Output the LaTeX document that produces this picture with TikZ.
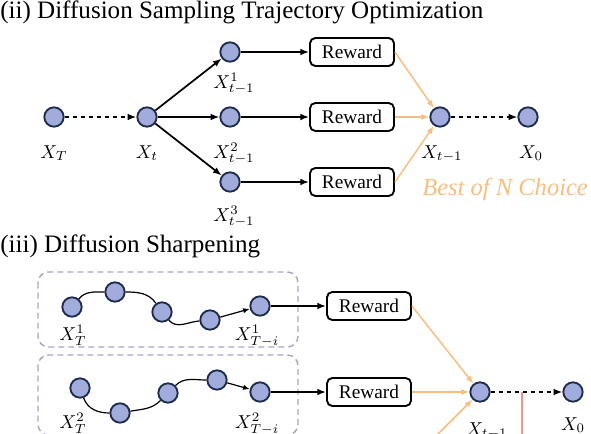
\documentclass[tikz,border=0pt]{standalone}
\usepackage{fontspec}
\setmainfont{Liberation Serif}
\usepackage{tikz}
\usetikzlibrary{shapes,arrows.meta}
\definecolor{latentfill}{RGB}{162,172,220}
\definecolor{latentline}{RGB}{30,45,75}
\definecolor{pickorange}{RGB}{247,190,128}
\definecolor{groupline}{RGB}{165,168,200}
\definecolor{cutred}{RGB}{232,150,150}
\tikzset{
  latent/.style={circle,draw=latentline,fill=latentfill,line width=1.4pt,minimum size=14.5pt,inner sep=0pt},
  rewardbox/.style={draw,rounded corners=4pt,line width=1.4pt,minimum width=63pt,minimum height=21pt,inner sep=0pt,font=\fontsize{14.5}{16}\selectfont},
  lbl/.style={anchor=base,inner sep=0pt,scale=1.4,font=\normalsize},
  heading/.style={anchor=base west,inner sep=0pt,font=\fontsize{18.8}{22}\selectfont},
  flow/.style={-{Latex[length=6.5pt,width=5pt]},line width=1.3pt},
  gap/.style={dash pattern=on 3.5pt off 2.5pt},
  pick/.style={-{Latex[length=6pt,width=4.5pt]},line width=1.1pt,draw=pickorange},
  trail/.style={line width=0.9pt},
  groupbox/.style={draw=groupline,line width=1.1pt,rounded corners=8pt,dash pattern=on 4.5pt off 3pt}
}
\begin{document}
\begin{tikzpicture}[x=0.75pt,y=0.75pt]
\useasboundingbox (0,0) rectangle (591,433);

% Text Node
\node[heading] (titleii) at (0,414) {(ii) Diffusion Sampling Trajectory Optimization};

%Shape: Circle
\node[latent] (xT) at (54,316) {};
\node[latent] (xt) at (147,316) {};
\node[latent] (xa) at (230,381) {};
\node[latent] (xb) at (230,316) {};
\node[latent] (xc) at (230,251) {};
\node[latent] (xsel) at (440,316) {};
\node[latent] (xzero) at (528,316) {};

%Shape: Rectangle
\node[rewardbox] (ra) at (352,381) {Reward};
\node[rewardbox] (rb) at (352,316) {Reward};
\node[rewardbox] (rc) at (352,251) {Reward};

%Straight Lines
\draw[flow,gap] (xT) -- (xt);
\draw[flow] (xt) -- (xa);
\draw[flow] (xt) -- (xb);
\draw[flow] (xt) -- (xc);
\draw[flow] (xa) -- (ra);
\draw[flow] (xb) -- (rb);
\draw[flow] (xc) -- (rc);
\draw[pick] (ra.east) -- (xsel);
\draw[pick] (rb.east) -- (xsel);
\draw[pick] (rc.east) -- (xsel);
\draw[flow,gap] (xsel) -- (xzero);

% Text Node
\node[lbl] (lxT) at (54,275) {$X_T$};
\node[lbl] (lxt) at (147,275) {$X_t$};
\node[lbl] (lxa) at (234,345) {$X_{t-1}^1$};
\node[lbl] (lxb) at (234,275) {$X_{t-1}^2$};
\node[lbl] (lxc) at (234,212) {$X_{t-1}^3$};
\node[lbl] (lxsel) at (442,275) {$X_{t-1}$};
\node[lbl] (lxzero) at (531,275) {$X_0$};
\node[anchor=base west,inner sep=0pt,text=pickorange,font=\fontsize{18.4}{22}\selectfont\itshape] (bestn) at (422,238) {Best of N Choice};

% Text Node
\node[heading] (titleiii) at (0,181) {(iii) Diffusion Sharpening};

%Shape: Rectangle
\draw[groupbox] (38,161) rectangle (298,86);
\draw[groupbox] (38,78) rectangle (298,-2);

%Shape: Circle
\node[latent] (pa) at (72,126) {};
\node[latent] (pb) at (115,141) {};
\node[latent] (pc) at (162,121) {};
\node[latent] (pd) at (210,113) {};
\node[latent] (pe) at (260,127) {};
\node[latent] (qa) at (80,45) {};
\node[latent] (qb) at (120,20) {};
\node[latent] (qc) at (168,40) {};
\node[latent] (qd) at (217,53) {};
\node[latent] (qe) at (260,41) {};
\node[latent] (xs) at (480,41) {};
\node[latent] (xz) at (573,41) {};

%Shape: Rectangle
\node[rewardbox] (rd) at (369,127) {Reward};
\node[rewardbox] (re) at (369,41) {Reward};

% Curves
\draw[trail] (pa) to[out=50,in=180] (pb) to[out=0,in=125] (pc) to[out=-50,in=185] (pd);
\draw[trail,-{Latex[length=5pt,width=4pt]}] (pd) -- (pe);
\draw[trail] (qa) to[out=-70,in=180] (qb) to[out=10,in=-135] (qc) to[out=45,in=180] (qd);
\draw[trail,-{Latex[length=5pt,width=4pt]}] (qd) -- (qe);

%Straight Lines
\coordinate (cutfrom) at (417,-22);
\coordinate (splittop) at (522,41);
\coordinate (splitend) at (522,-15);
\draw[flow] (pe) -- (rd);
\draw[flow] (qe) -- (re);
\draw[pick] (rd.east) -- (xs);
\draw[pick] (re.east) -- (xs);
\draw[pick] (cutfrom) -- (xs);
\draw[draw=cutred,line width=1.5pt] (splittop) -- (splitend);
\draw[flow,gap] (xs) -- (xz);

% Text Node
\node[lbl] (lpa) at (73,93) {$X_T^1$};
\node[lbl] (lpe) at (257,93) {$X_{T-i}^1$};
\node[lbl] (lqa) at (73,5) {$X_T^2$};
\node[lbl] (lqe) at (257,5) {$X_{T-i}^2$};
\node[lbl] (lxs) at (487,-2) {$X_{t-1}$};
\node[lbl] (lxz) at (573,3) {$X_0$};

\end{tikzpicture}
\end{document}
